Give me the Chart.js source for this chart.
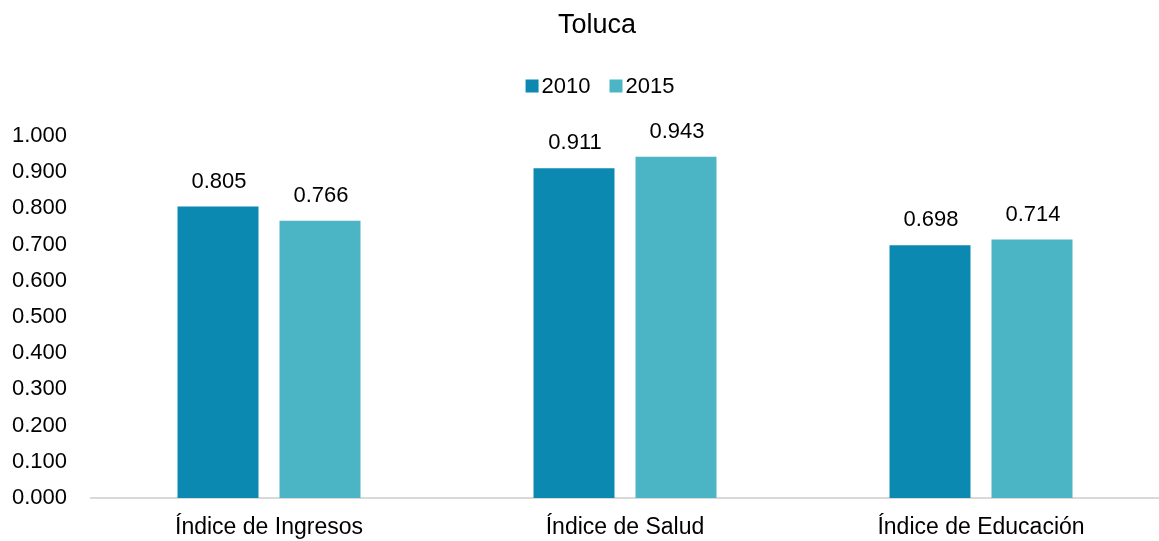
<!DOCTYPE html>
<html>
<head>
<meta charset="utf-8">
<script src="https://cdn.jsdelivr.net/npm/chart.js@4"></script>
<style>
  html, body { margin: 0; padding: 0; background: #fff; }
  #wrap { width: 1159px; height: 541px; }
</style>
</head>
<body>
<div id="wrap"><canvas id="grafico"></canvas></div>
<script>
const titulo = "Toluca";
const categorias = ["Índice de Ingresos", "Índice de Salud", "Índice de Educación"];
const valores2010 = [0.805, 0.911, 0.698];
const valores2015 = [0.766, 0.943, 0.714];
const anos = ["2010", "2015"];
const cores = ["#0C89B1", "#4BB5C6"];

const fonte = "'Liberation Sans', Arial, sans-serif";

// escreve o valor em cima de cada barra
const rotulos = {
  id: "rotulos",
  afterDatasetsDraw(chart) {
    const ctx = chart.ctx;
    ctx.save();
    ctx.font = "22px " + fonte;
    ctx.fillStyle = "#000";
    ctx.textAlign = "center";
    ctx.textBaseline = "alphabetic";
    chart.data.datasets.forEach((ds, i) => {
      chart.getDatasetMeta(i).data.forEach((bar, j) => {
        ctx.fillText(ds.data[j].toFixed(3), bar.x + 1, bar.y - 19);
      });
    });
    ctx.restore();
  }
};

// título e legenda compacta (quadrado colado no texto), centrados um pouco à direita
const cabecalho = {
  id: "cabecalho",
  afterDraw(chart) {
    const ctx = chart.ctx;
    const centro = 597;
    ctx.save();
    ctx.fillStyle = "#000";
    ctx.textAlign = "center";
    ctx.textBaseline = "middle";
    ctx.font = "27px " + fonte;
    ctx.fillText(titulo, centro, 26);

    const caixa = 13, espaco = 3, entre = 19, y = 86;
    ctx.font = "22px " + fonte;
    ctx.textAlign = "left";
    const itens = chart.data.datasets.map(ds => ({
      texto: ds.label, cor: ds.backgroundColor, w: ctx.measureText(ds.label).width
    }));
    const total = itens.reduce((s, it) => s + caixa + espaco + it.w, 0) + entre * (itens.length - 1);
    let x = centro + 3 - total / 2;
    itens.forEach(it => {
      ctx.fillStyle = it.cor;
      ctx.fillRect(x, y - caixa / 2, caixa, caixa);
      x += caixa + espaco;
      ctx.fillStyle = "#000";
      ctx.fillText(it.texto, x, y + 1);
      x += it.w + entre;
    });
    ctx.restore();
  }
};

new Chart(document.getElementById("grafico").getContext("2d"), {
  type: "bar",
  data: {
    labels: categorias,
    datasets: [
      { label: anos[0], data: valores2010, backgroundColor: cores[0] },
      { label: anos[1], data: valores2015, backgroundColor: cores[1] }
    ]
  },
  options: {
    responsive: true,
    maintainAspectRatio: false,
    animation: false,
    categoryPercentage: 0.573,
    barPercentage: 0.794,
    layout: { padding: { left: 0, right: 0, top: 136, bottom: 0 } },
    plugins: {
      legend: { display: false },
      tooltip: { enabled: false }
    },
    scales: {
      x: {
        grid: { display: false },
        border: { display: true, color: "#D9D9D9", width: 2 },
        ticks: { color: "#000", font: { family: fonte, size: 23 }, padding: 8 },
        afterFit: s => { s.height = 43; }
      },
      y: {
        min: 0,
        max: 1,
        grid: { display: false },
        border: { display: false },
        ticks: {
          stepSize: 0.1,
          color: "#000",
          padding: 16,
          font: { family: fonte, size: 22 },
          callback: v => v.toFixed(3)
        },
        afterFit: s => { s.width = 91; }
      }
    }
  },
  plugins: [rotulos, cabecalho]
});
</script>
</body>
</html>
